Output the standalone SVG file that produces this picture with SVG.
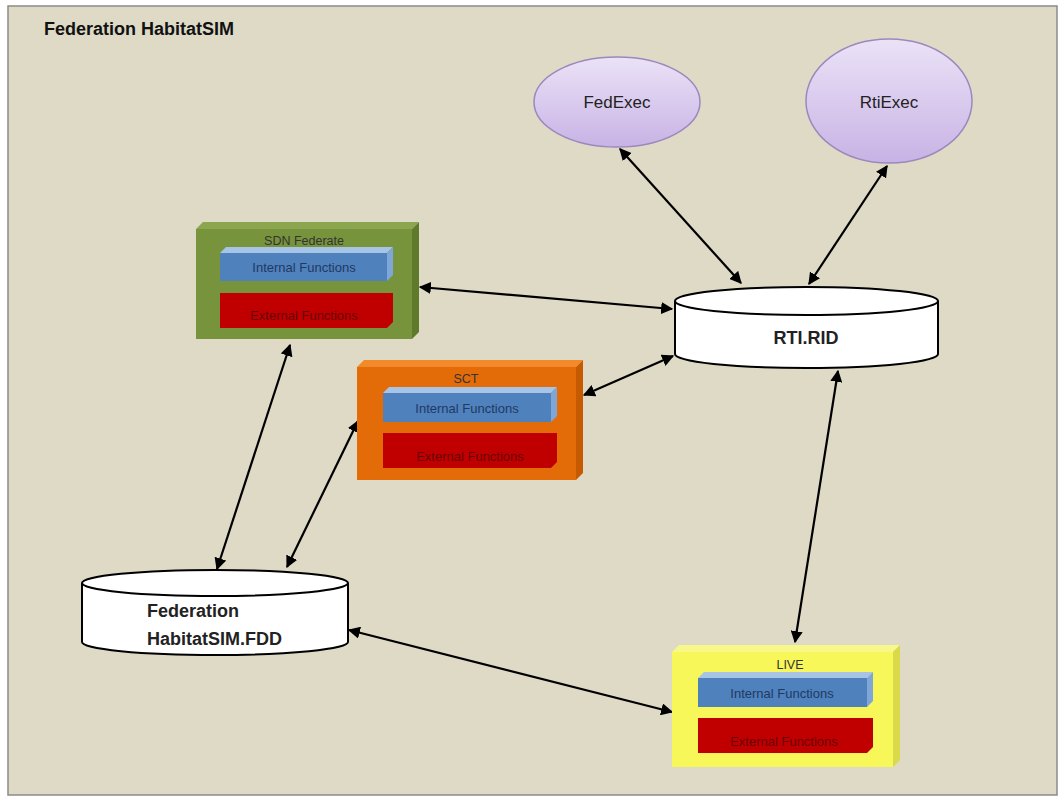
<svg xmlns="http://www.w3.org/2000/svg" width="1058" height="796" viewBox="0 0 1058 796">
  <defs>
    <linearGradient id="lav" x1="0" y1="0" x2="0" y2="1">
      <stop offset="0" stop-color="#ebe2f7"/>
      <stop offset="1" stop-color="#c8b3e5"/>
    </linearGradient>
    <marker id="ah" viewBox="0 0 10 10" refX="9" refY="5" markerWidth="5.5" markerHeight="5.5" orient="auto-start-reverse" markerUnits="strokeWidth">
      <path d="M0,0 L10,5 L0,10 z" fill="#000"/>
    </marker>
  </defs>
  <style>
    .title { font-family: "Liberation Sans", Arial, sans-serif; font-weight: bold; font-size: 18px; fill: #111; }
    .ell { fill: url(#lav); stroke: #9b88bd; stroke-width: 1.5; }
    .elltxt { font-family: "Liberation Sans", Arial, sans-serif; font-size: 17px; fill: #222; text-anchor: middle; }
    .cyl { fill: #ffffff; stroke: #000; stroke-width: 2; }
    .cyltxt { font-family: "Liberation Sans", Arial, sans-serif; font-weight: bold; font-size: 18px; fill: #222; }
    .boxtitle { font-family: "Liberation Sans", Arial, sans-serif; font-size: 12.5px; fill: #333; text-anchor: middle; }
    .fn { font-family: "Liberation Sans", Arial, sans-serif; font-size: 13px; text-anchor: middle; }
    .int-front { fill: #4f81bd; }
    .int-top { fill: #a7c3e6; }
    .int-side { fill: #7ea6d8; }
    .int-txt { fill: #1f3a63; }
    .ext-front { fill: #c00000; }
    .ext-txt { fill: #6b0000; }
    .conn line { stroke: #000; stroke-width: 2.2; marker-start: url(#ah); marker-end: url(#ah); }
  </style>

  <!-- background panel -->
  <rect x="0" y="0" width="1058" height="796" fill="#ffffff"/>
  <rect x="8" y="6" width="1049" height="789" fill="#dedac6" stroke="#8a8a8a" stroke-width="1.5"/>
  <text class="title" x="44" y="35">Federation HabitatSIM</text>

  <!-- connectors -->
  <g id="connectors" class="conn">
    <line x1="620" y1="149" x2="741" y2="283"/>
    <line x1="887" y1="166" x2="809" y2="284"/>
    <line x1="420" y1="287" x2="672" y2="309"/>
    <line x1="584" y1="395" x2="673" y2="356"/>
    <line x1="290" y1="345" x2="217" y2="569"/>
    <line x1="358" y1="421" x2="287" y2="567"/>
    <line x1="838" y1="371" x2="795" y2="642"/>
    <line x1="349" y1="630" x2="672" y2="712"/>
  </g>

  <!-- FedExec -->
  <g id="fedexec">
    <ellipse class="ell" cx="617" cy="102" rx="83" ry="45"/>
    <text class="elltxt" x="617" y="108">FedExec</text>
  </g>

  <!-- RtiExec -->
  <g id="rtiexec">
    <ellipse class="ell" cx="889" cy="101" rx="83" ry="62"/>
    <text class="elltxt" x="889" y="108">RtiExec</text>
  </g>

  <!-- RTI.RID store -->
  <g id="rti-rid">
    <path class="cyl" d="M675,301 L675,354 A131.5,14 0 0 0 938,354 L938,301"/>
    <ellipse class="cyl" cx="806.5" cy="301" rx="131.5" ry="14"/>
    <text class="cyltxt" x="806" y="344" text-anchor="middle">RTI.RID</text>
  </g>

  <!-- Federation HabitatSIM.FDD store -->
  <g id="fdd">
    <path class="cyl" d="M82,583 L82,642 A133,13 0 0 0 348,642 L348,583"/>
    <ellipse class="cyl" cx="215" cy="583" rx="133" ry="13"/>
    <text class="cyltxt" x="147" y="617">Federation</text>
    <text class="cyltxt" x="147" y="645">HabitatSIM.FDD</text>
  </g>

  <!-- SDN Federate -->
  <g id="sdn-federate">
    <polygon points="196,229 203,222 419,222 412,229" fill="#8ba64f"/>
    <polygon points="412,229 419,222 419,332 412,339" fill="#5f7a2a"/>
    <rect x="196" y="229" width="216" height="110" fill="#77933c"/>
    <text class="boxtitle" x="304" y="245">SDN Federate</text>
    <polygon points="220,253 226,247 393,247 387,253" class="int-top"/>
    <polygon points="387,253 393,247 393,275 387,281" class="int-side"/>
    <rect x="220" y="253" width="167" height="28" class="int-front"/>
    <text class="fn int-txt" x="304" y="272">Internal Functions</text>
    <path d="M220,293 L393,293 L393,322 L387,328 L220,328 z" class="ext-front"/>
    <text class="fn ext-txt" x="304" y="320">External Functions</text>
  </g>

  <!-- SCT -->
  <g id="sct">
    <polygon points="357,367 364,360 583,360 576,367" fill="#f28a2a"/>
    <polygon points="576,367 583,360 583,473 576,480" fill="#c65a00"/>
    <rect x="357" y="367" width="219" height="113" fill="#e36c09"/>
    <text class="boxtitle" x="466" y="383">SCT</text>
    <polygon points="383,393 389,387 557,387 551,393" class="int-top"/>
    <polygon points="551,393 557,387 557,416 551,422" class="int-side"/>
    <rect x="383" y="393" width="168" height="29" class="int-front"/>
    <text class="fn int-txt" x="467" y="413">Internal Functions</text>
    <path d="M383,433 L557,433 L557,462 L551,468 L383,468 z" class="ext-front"/>
    <text class="fn ext-txt" x="470" y="461">External Functions</text>
  </g>

  <!-- LIVE -->
  <g id="live">
    <polygon points="672,652 679,645 900,645 893,652" fill="#f8f88a"/>
    <polygon points="893,652 900,645 900,760 893,767" fill="#d9d94a"/>
    <rect x="672" y="652" width="221" height="115" fill="#f7f759"/>
    <text class="boxtitle" x="790" y="669">LIVE</text>
    <polygon points="698,678 704,672 873,672 867,678" class="int-top"/>
    <polygon points="867,678 873,672 873,701 867,707" class="int-side"/>
    <rect x="698" y="678" width="169" height="29" class="int-front"/>
    <text class="fn int-txt" x="782" y="698">Internal Functions</text>
    <path d="M698,718 L873,718 L873,747 L867,753 L698,753 z" class="ext-front"/>
    <text class="fn ext-txt" x="784" y="746">External Functions</text>
  </g>
</svg>
